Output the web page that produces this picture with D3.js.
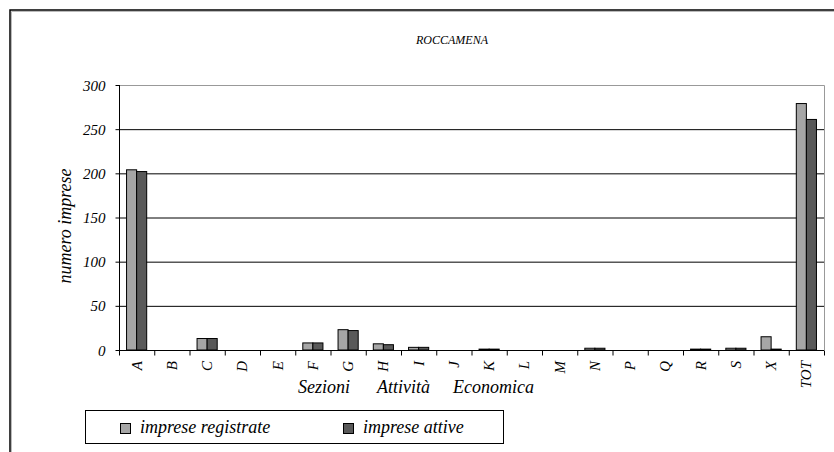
<!DOCTYPE html>
<html><head><meta charset="utf-8">
<script src="https://cdn.jsdelivr.net/npm/d3@7"></script>
<style>body{margin:0;background:#fff}svg{display:block}</style>
</head><body><svg id="c" width="834" height="452"></svg>
<script>
const categories = ["A","B","C","D","E","F","G","H","I","J","K","L","M","N","P","Q","R","S","X","TOT"];
const registrate = [204,0,13,0,0,8,23,7,3,0,1,0,0,2,0,0,1,2,15,279];
const attive     = [202,0,13,0,0,8,22,6,3,0,1,0,0,2,0,0,1,2,1,261];
const yTicks = [0,50,100,150,200,250,300];
const xTitleWords = ["Sezioni","Attività","Economica"];
const seriesNames = ["imprese registrate","imprese attive"];
const colors = ["#a6a6a6","#595959"];
const FONT = "Liberation Serif";

const svg = d3.select("#c").attr("font-family",FONT).attr("font-style","italic");
// outer chart border
svg.append("rect").attr("x",10).attr("y",10).attr("width",840).attr("height",460)
  .attr("fill","#fff").attr("stroke","#000").attr("stroke-width",1.5);
svg.append("path").attr("d","M11.5,470V11.5H850").attr("fill","none").attr("stroke","#bbb").attr("stroke-width",1);

const L=119, R=824, T=85, B=350;
const x = d3.scaleBand().domain(categories).range([L,R]).paddingInner(0).paddingOuter(0);
const y = d3.scaleLinear().domain([0,300]).range([B,T]);
const bw = x.bandwidth()/3.5;

// gridlines
svg.append("g").selectAll("line").data(yTicks.filter(d=>d>0 && d<300)).join("line")
  .attr("x1",L).attr("x2",R).attr("y1",d=>y(d)+0.5).attr("y2",d=>y(d)+0.5)
  .attr("stroke","#000").attr("stroke-width",1);
// top and right plot border (gray)
svg.append("path").attr("d",`M${L},${T+0.5}H${R+0.5}V${B}`).attr("fill","none").attr("stroke","#999").attr("stroke-width",1);

// bars
const g = svg.append("g");
[registrate, attive].forEach((vals,si)=>{
  g.append("g").selectAll("rect").data(categories).join("rect")
    .attr("x",(d,i)=>x(d)+bw*0.75+si*bw)
    .attr("y",(d,i)=>y(vals[i]))
    .attr("width",bw)
    .attr("height",(d,i)=>B-y(vals[i]))
    .attr("fill",colors[si]).attr("stroke","#000").attr("stroke-width",1)
    .attr("display",(d,i)=>vals[i]>0?null:"none");
});

// y axis
const ya = svg.append("g").attr("transform",`translate(${L+0.5},0)`)
  .call(d3.axisLeft(y).tickValues(yTicks).tickSize(4).tickPadding(10));
ya.attr("font-family",FONT).attr("font-size",15);
ya.select(".domain").attr("d",`M-0,${T}V${B}`).attr("stroke","#000");
ya.selectAll("text").attr("fill","#000").attr("dy","0.34em");
ya.selectAll(".tick line").attr("stroke","#000");

// x axis
const xa = svg.append("g").attr("transform",`translate(0,${B+0.5})`)
  .call(d3.axisBottom(x).tickSize(0).tickFormat(""));
xa.select(".domain").attr("d",`M${L},0H${R}`).attr("stroke","#000");
xa.append("g").selectAll("line").data(categories.concat(["__end"])).join("line")
  .attr("x1",(d,i)=>i<categories.length?x(d)+0.5:R+0.5).attr("x2",(d,i)=>i<categories.length?x(d)+0.5:R+0.5)
  .attr("y1",0).attr("y2",5).attr("stroke","#000");
svg.append("g").selectAll("text").data(categories).join("text")
  .attr("transform",d=>`translate(${x(d)+x.bandwidth()/2+5},361) rotate(-90)`)
  .attr("text-anchor","end").attr("font-size",15).text(d=>d);

// axis titles
const titleX = [298,377,453];
svg.append("g").selectAll("text").data(xTitleWords).join("text")
  .attr("x",(d,i)=>titleX[i]).attr("y",393).attr("font-size",18).text(d=>d);
svg.append("text").attr("transform","translate(71,226) rotate(-90)").attr("text-anchor","middle")
  .attr("font-size",18).text("numero imprese");
// title
svg.append("text").attr("x",452).attr("y",44).attr("text-anchor","middle").attr("font-size",12).text("ROCCAMENA");

// legend
const lg = svg.append("g");
lg.append("rect").attr("x",85.5).attr("y",410.5).attr("width",418).attr("height",33)
  .attr("fill","#fff").attr("stroke","#000").attr("stroke-width",1);
const lx=[120,343];
seriesNames.forEach((n,i)=>{
  lg.append("rect").attr("x",lx[i]+0.5).attr("y",423.5).attr("width",10).attr("height",10)
    .attr("fill",colors[i]).attr("stroke","#000");
  lg.append("text").attr("x",lx[i]+20).attr("y",433).attr("font-size",18).text(n);
});
</script></body></html>
